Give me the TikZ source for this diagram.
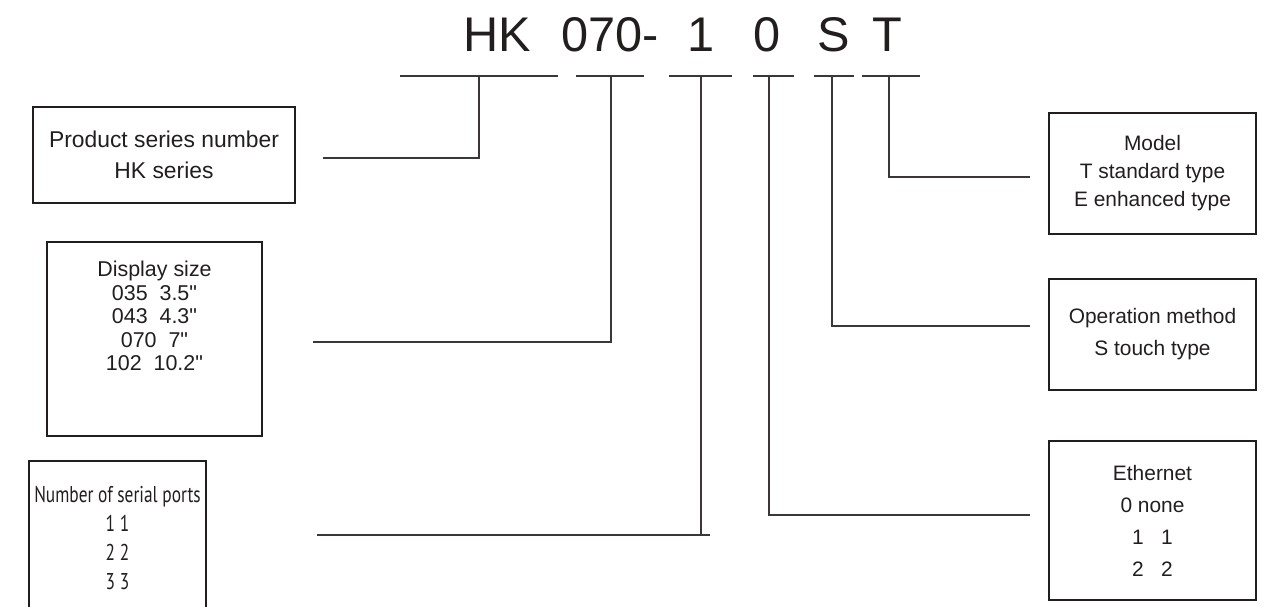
\documentclass[tikz,border=0pt]{standalone}
\usepackage{fontspec}
\setmainfont{Liberation Sans}
\newfontfamily\plainfont{Liberation Sans}
\newfontfamily\portsfont[FakeStretch=0.76]{PT Sans}
\usepackage{xcolor}
\definecolor{inkdark}{RGB}{35, 30, 30}
\definecolor{leadgray}{RGB}{60, 55, 55}
\usetikzlibrary{positioning}

\newcommand{\inch}{{\plainfont"}}

\tikzset{
  infobox/.style={draw=inkdark, line width=1pt, inner sep=0pt, align=center, text=inkdark},
  boxtext/.style={inner sep=0pt, align=center, text=inkdark},
  codepart/.style={anchor=base west, inner sep=0pt, text=inkdark, font=\fontsize{27.7}{30}\selectfont},
  lead/.style={draw=leadgray, line width=0.9pt},
}

\begin{document}
\begin{tikzpicture}

  \clip (0, 0) rectangle (25.6, 12.12);

  % the model code
  \node[codepart] (tHK) at (9.26, 11.08) {HK};
  \node[codepart] (tSize) at (11.22, 11.08) {070-};
  \node[codepart] (tPorts) at (13.74, 11.08) {1};
  \node[codepart] (tEth) at (15.06, 11.08) {0};
  \node[codepart] (tOp) at (16.34, 11.08) {S};
  \node[codepart] (tModel) at (17.44, 11.08) {T};

  % underline under each part of the code
  \foreach \a/\b in {8.0/11.16, 11.52/12.88, 13.38/14.64, 15.06/15.88, 16.28/17.08, 17.24/18.4} {
    \draw[lead] (\a, 10.6) -- (\b, 10.6);
  }

  % taps on the underlines
  \coordinate (uHK) at (9.58, 10.6);
  \coordinate (uSize) at (12.22, 10.6);
  \coordinate (uPorts) at (14.02, 10.6);
  \coordinate (uEth) at (15.38, 10.6);
  \coordinate (uOp) at (16.64, 10.6);
  \coordinate (uModel) at (17.78, 10.6);

  % left column: boxes
  \node[infobox, minimum width=5.24cm, minimum height=1.92cm, font=\fontsize{13}{17.6}\selectfont] (seriesbox) at (3.28, 9.02) {Product series number\\HK series};

  \node[infobox, minimum width=4.3cm, minimum height=3.88cm] (sizebox) at (3.09, 5.34) {};
  \node[boxtext, font=\fontsize{12.2}{13.3}\selectfont] (sizetext) at (3.09, 5.8) {Display size\\035\ \ 3.5\inch\\043\ \ 4.3\inch\\070\ \ 7\inch\\102\ \ 10.2\inch};

  \node[infobox, minimum width=3.54cm, minimum height=3.58cm] (portsbox) at (2.35, 1.11) {};
  \node[boxtext, font=\portsfont\fontsize{13}{16.5}\selectfont] (portstext) at (2.35, 1.36) {Number of serial ports\\1\ 1\\2\ 2\\3\ 3};

  % right column: boxes
  \node[infobox, minimum width=4.14cm, minimum height=2.42cm, font=\fontsize{11.9}{15.9}\selectfont] (modelbox) at (23.05, 8.65) {Model\\T standard type\\E enhanced type};
  \node[infobox, minimum width=4.14cm, minimum height=2.22cm, font=\fontsize{11.9}{18.2}\selectfont] (opbox) at (23.05, 5.43) {Operation method\\S touch type};
  \node[infobox, minimum width=4.14cm, minimum height=3.18cm, font=\fontsize{11.9}{18.2}\selectfont] (ethbox) at (23.05, 1.71) {Ethernet\\0 none\\1\ \ \ 1\\2\ \ \ 2};

  % free ends of the leader lines
  \coordinate (eHK) at (6.46, 8.96);
  \coordinate (eSize) at (6.26, 5.28);
  \coordinate (ePorts) at (6.34, 1.42);
  \coordinate (eEth) at (20.6, 1.82);
  \coordinate (eOp) at (20.6, 5.6);
  \coordinate (eModel) at (20.6, 8.58);

  % leader lines
  \draw[lead] (uHK) |- (eHK);
  \draw[lead] (uSize) |- (eSize);
  \draw[lead] (uPorts) |- (ePorts);
  \draw[lead] (ePorts) -- ++(7.86, 0);
  \draw[lead] (uEth) |- (eEth);
  \draw[lead] (uOp) |- (eOp);
  \draw[lead] (uModel) |- (eModel);

\end{tikzpicture}
\end{document}
